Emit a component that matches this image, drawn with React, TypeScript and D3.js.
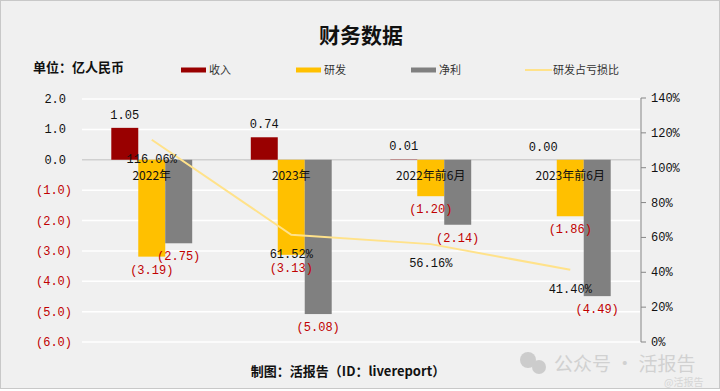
import * as d3 from "d3";

const categories = ["2022年", "2023年", "2022年前6月", "2023年前6月"];
const revenue = [1.05, 0.74, 0.01, 0.0];
const rnd = [-3.19, -3.13, -1.2, -1.86];
const netProfit = [-2.75, -5.08, -2.14, -4.49];
const rndRatio = [116.06, 61.52, 56.16, 41.4];
const leftTicks = [2, 1, 0, -1, -2, -3, -4, -5, -6];
const rightTicks = [0, 20, 40, 60, 80, 100, 120, 140];

const seriesNames = ["收入", "研发", "净利"];
const seriesColors = ["#990000", "#ffc000", "#808080"];
const lineColor = "#ffe28a";
const negColor = "#c00000";
const numFont = "'Liberation Mono', 'DejaVu Sans Mono', monospace";
const cjkFont = "'Noto Sans CJK SC', 'Noto Sans', sans-serif";

const W = 720;
const H = 391;

const fmtNum = (v: number, digits: number) => {
  const s = Math.abs(v).toFixed(digits);
  return v < 0 ? `(${s})` : s;
};

export default function App() {
  const x = d3.scaleBand<string>().domain(categories).range([82, 640]);
  const y = d3.scaleLinear().domain([-6, 2]).range([342, 99]);
  const yR = d3.scaleLinear().domain([0, 140]).range([342, 98]);
  const groupW = x.bandwidth() * 0.58;
  const inner = d3.scaleBand<number>().domain([0, 1, 2]).range([0, groupW]);
  const groupStart = (c: string) => (x(c) ?? 0) + (x.bandwidth() - groupW) / 2;
  const center = (c: string) => (x(c) ?? 0) + x.bandwidth() / 2;

  const series = [revenue, rnd, netProfit];

  const line = d3
    .line<number>()
    .x((_, i) => center(categories[i]))
    .y((d) => yR(d));

  const legendItems = [
    { label: seriesNames[0], color: seriesColors[0], x: 181, kind: "bar" },
    { label: seriesNames[1], color: seriesColors[1], x: 296, kind: "bar" },
    { label: seriesNames[2], color: seriesColors[2], x: 411, kind: "bar" },
    { label: "研发占亏损比", color: lineColor, x: 525, kind: "line" },
  ];

  return (
    <svg
      width={W}
      height={H}
      style={{ position: "absolute", left: 0, top: 0, display: "block" }}
    >
      <rect x={0.5} y={0.5} width={W - 1} height={H - 3} fill="#f0f0f0" stroke="#c8c8c8" />

      <text x={361} y={43} textAnchor="middle" fontFamily={cjkFont} fontWeight="bold" fontSize={21} fill="#111">
        财务数据
      </text>
      <text x={33} y={72} fontFamily={cjkFont} fontWeight="bold" fontSize={13} fill="#111">
        单位：亿人民币
      </text>

      {legendItems.map((d) => (
        <g key={d.label}>
          {d.kind === "bar" ? (
            <rect x={d.x} y={67.5} width={25} height={5} fill={d.color} />
          ) : (
            <line x1={d.x} x2={d.x + 27} y1={70} y2={70} stroke={d.color} strokeWidth={2} />
          )}
          <text x={d.x + 28} y={74} fontFamily={cjkFont} fontSize={11} fill="#333">
            {d.label}
          </text>
        </g>
      ))}

      {/* gridlines */}
      {leftTicks.map((t) => (
        <line
          key={t}
          x1={82}
          x2={640}
          y1={y(t)}
          y2={y(t)}
          stroke={t === 0 ? "#d0d0d0" : "#ffffff"}
          strokeWidth={1.5}
        />
      ))}

      {/* left axis labels */}
      {leftTicks.map((t) => (
        <text
          key={t}
          x={t < 0 ? 72 : 66}
          y={y(t) + 4}
          textAnchor="end"
          fontFamily={numFont}
          fontSize={12}
          fill={t < 0 ? negColor : "#111"}
        >
          {fmtNum(t, 1)}
        </text>
      ))}

      {/* right axis */}
      <line x1={641} x2={641} y1={yR(140)} y2={yR(0)} stroke="#868686" strokeWidth={1} />
      {rightTicks.map((t) => (
        <g key={t}>
          <line x1={641} x2={646} y1={yR(t)} y2={yR(t)} stroke="#868686" />
          <text x={651} y={yR(t) + 4} fontFamily={numFont} fontSize={12} fill="#111">
            {t}%
          </text>
        </g>
      ))}

      {/* bars */}
      {series.map((vals, si) =>
        vals.map((v, ci) => {
          const c = categories[ci];
          const bx = groupStart(c) + (inner(si) ?? 0);
          const y0 = y(Math.max(0, v));
          const y1 = y(Math.min(0, v));
          return (
            <rect
              key={`${si}-${ci}`}
              x={bx}
              y={y0}
              width={inner.bandwidth()}
              height={Math.max(0, y1 - y0)}
              fill={seriesColors[si]}
            />
          );
        })
      )}

      {/* line */}
      <path d={line(rndRatio) ?? undefined} fill="none" stroke={lineColor} strokeWidth={2} />

      {/* category labels */}
      {categories.map((c) => (
        <text key={c} x={center(c)} y={180} textAnchor="middle" fontFamily={cjkFont} fontSize={12} fill="#111">
          {c}
        </text>
      ))}

      {/* bar labels */}
      {series.map((vals, si) =>
        vals.map((v, ci) => {
          const c = categories[ci];
          const cx = groupStart(c) + (inner(si) ?? 0) + inner.bandwidth() / 2;
          const ly = v >= 0 ? y(v) - 13 : y(v) + 13;
          return (
            <text
              key={`l-${si}-${ci}`}
              x={cx}
              y={ly + 4}
              textAnchor="middle"
              fontFamily={numFont}
              fontSize={12}
              fill={v < 0 ? negColor : "#111"}
            >
              {fmtNum(v, 2)}
            </text>
          );
        })
      )}

      {/* line labels */}
      {rndRatio.map((v, i) => (
        <text
          key={`r-${i}`}
          x={center(categories[i])}
          y={yR(v) + 23}
          textAnchor="middle"
          fontFamily={numFont}
          fontSize={12}
          fill="#111"
        >
          {v.toFixed(2)}%
        </text>
      ))}

      <text x={348} y={376} textAnchor="middle" fontFamily={cjkFont} fontWeight="bold" fontSize={13} fill="#111">
        制图：活报告（ID：livereport）
      </text>

      {/* watermark */}
      <g opacity={0.55}>
        <circle cx={528} cy={360} r={8} fill="#b0b0b0" />
        <circle cx={539} cy={367} r={7} fill="#b0b0b0" />
        <text x={554} y={371} fontFamily={cjkFont} fontSize={19} fill="#b8b8b8">
          公众号 · 活报告
        </text>
        <text x={664} y={386} fontFamily={cjkFont} fontSize={10} fill="#c0c0c0">
          @活报告
        </text>
      </g>
    </svg>
  );
}
